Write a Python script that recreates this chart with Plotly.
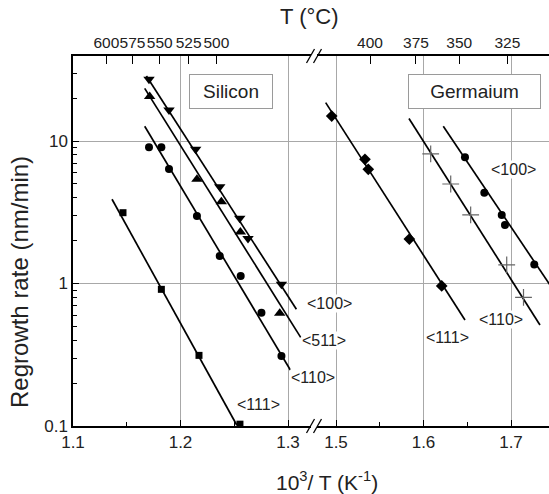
import math
import plotly.graph_objects as go

# ---------------- data (x = 10^3/T in 1/K, y = regrowth rate in nm/min) ----------------
# Silicon
si_100_x = [1.1707, 1.1893, 1.2141, 1.2365, 1.2551, 1.2628, 1.2939]
si_100_y = [27.1, 16.5, 8.74, 4.78, 2.87, 2.07, 0.987]
si_511_x = [1.1713, 1.2153, 1.2380, 1.2557, 1.2923]
si_511_y = [20.5, 5.40, 3.74, 2.30, 0.618]
si_110_x = [1.1707, 1.1822, 1.1893, 1.2153, 1.2365, 1.2560, 1.2753, 1.2939]
si_110_y = [9.03, 9.03, 6.36, 2.98, 1.56, 1.13, 0.624, 0.310]
si_111_x = [1.1465, 1.1822, 1.2172, 1.2553]
si_111_y = [3.14, 0.910, 0.313, 0.103]
# Germanium
ge_111_x = [1.4951, 1.5331, 1.5369, 1.5838, 1.6208]
ge_111_y = [14.97, 7.44, 6.33, 2.05, 0.961]
ge_110_x = [1.6082, 1.6311, 1.6539, 1.6951, 1.7143]
ge_110_y = [8.11, 4.99, 3.03, 1.35, 0.80]
ge_100_x = [1.6474, 1.6695, 1.6894, 1.6931, 1.7266]
ge_100_y = [7.69, 4.34, 3.03, 2.57, 1.36]

# Arrhenius fit lines (start / end)
si_100_fit_x = [1.1683, 1.3078]; si_100_fit_y = [28.6, 0.659]
si_511_fit_x = [1.1667, 1.3118]; si_511_fit_y = [23.4, 0.419]
si_110_fit_x = [1.1667, 1.3022]; si_110_fit_y = [12.7, 0.247]
si_111_fit_x = [1.1363, 1.2523]; si_111_fit_y = [3.90, 0.1016]
ge_111_fit_x = [1.4882, 1.6474]; ge_111_fit_y = [18.6, 0.555]
ge_110_fit_x = [1.5834, 1.7331]; ge_110_fit_y = [14.4, 0.512]
ge_100_fit_x = [1.6226, 1.7600]; ge_100_fit_y = [12.7, 0.705]

# axis ticks
bottom_si_ticks = [1.1, 1.2, 1.3]
bottom_ge_ticks = [1.5, 1.6, 1.7]
top_si_pos = [1.1311, 1.1553, 1.1807, 1.2076, 1.2334]
top_si_labels = ["600", "575", "550", "525", "500"]
top_ge_pos = [1.5389, 1.5914, 1.6409, 1.6958]
top_ge_labels = ["400", "375", "350", "325"]
y_ticks = [0.1, 1, 10]
y_tick_labels = ["0.1", "1", "10"]
y_minor = [0.2, 0.3, 0.4, 0.5, 0.6, 0.7, 0.8, 0.9, 2, 3, 4, 5, 6, 7, 8, 9, 20, 30]

# orientation labels (text, x, y)
si_labels = [("<100>", 1.3171, 0.726), ("<511>", 1.3119, 0.397),
             ("<110>", 1.3022, 0.218), ("<111>", 1.2520, 0.1426)]
ge_labels = [("<100>", 1.6760, 6.33), ("<110>", 1.6626, 0.561),
             ("<111>", 1.6017, 0.421)]

# ---------------- layout geometry ----------------
W, H = 549, 494
L, R, T, B = 73, 0, 56, 68
PW, PH = W - L - R, H - T - B
BREAK_PX = 314
split = (BREAK_PX - L) / PW
x_si_range = [1.1, 1.1 + (BREAK_PX - L) / 1075]
x_ge_range = [1.5 - (336 - BREAK_PX) / 875, 1.5 + (W - 336) / 875]
y_range = [-1, -1 + PH / 142.5]

def px(xp):
    return (xp - L) / PW

def py(yp):
    return (H - B - yp) / PH

FONT = "Liberation Sans, Arial, sans-serif"
TXT = "#222222"
GRID = "#a8a8a8"

fig = go.Figure()

def add_series(xs, ys, fx, fy, axis, symbol, size, color="black", lw=0):
    fig.add_trace(go.Scatter(x=fx, y=fy, mode="lines", xaxis=axis, yaxis="y",
                             line=dict(color="black", width=1.7), showlegend=False,
                             hoverinfo="skip"))
    fig.add_trace(go.Scatter(x=xs, y=ys, mode="markers", xaxis=axis, yaxis="y",
                             cliponaxis=False, showlegend=False,
                             marker=dict(symbol=symbol, size=size, color=color,
                                         line=dict(color=color, width=lw))))

add_series(si_100_x, si_100_y, si_100_fit_x, si_100_fit_y, "x", "triangle-down", 10)
add_series(si_511_x, si_511_y, si_511_fit_x, si_511_fit_y, "x", "triangle-up", 10)
add_series(si_110_x, si_110_y, si_110_fit_x, si_110_fit_y, "x", "circle", 8)
add_series(si_111_x, si_111_y, si_111_fit_x, si_111_fit_y, "x", "square", 7)
add_series(ge_111_x, ge_111_y, ge_111_fit_x, ge_111_fit_y, "x2", "diamond", 9)
add_series(ge_110_x, ge_110_y, ge_110_fit_x, ge_110_fit_y, "x2", "cross-thin", 12, "#666666", 1.2)
add_series(ge_100_x, ge_100_y, ge_100_fit_x, ge_100_fit_y, "x2", "circle", 8)

# placeholder traces so the top axes exist
fig.add_trace(go.Scatter(x=[None], y=[None], xaxis="x3", yaxis="y", showlegend=False))
fig.add_trace(go.Scatter(x=[None], y=[None], xaxis="x4", yaxis="y", showlegend=False))

tickfont = dict(family=FONT, size=17, color=TXT)
topfont = dict(family=FONT, size=15.5, color=TXT)
common_x = dict(showline=True, linecolor="black", linewidth=1.5, ticks="inside",
                ticklen=6, tickcolor="black", tickwidth=1.2, zeroline=False,
                showgrid=True, gridcolor=GRID, gridwidth=1, tickfont=tickfont,
                tickangle=0)
common_top = dict(side="top", anchor="y", tickmode="array", showline=True,
                  linecolor="black", linewidth=1.5, ticks="inside", ticklen=8,
                  tickcolor="black", tickwidth=1.2, showgrid=False, zeroline=False,
                  tickfont=topfont, tickangle=0)

fig.update_layout(
    width=W, height=H, autosize=False,
    margin=dict(l=L, r=R, t=T, b=B, pad=0),
    paper_bgcolor="white", plot_bgcolor="white",
    xaxis=dict(domain=[0, split], range=x_si_range, tickmode="array",
               tickvals=bottom_si_ticks, ticktext=[f"{v:.1f}" for v in bottom_si_ticks],
               minor=dict(tickvals=[1.15, 1.25], ticks="inside", ticklen=4,
                          tickcolor="black", showgrid=False),
               anchor="y", **common_x),
    xaxis2=dict(domain=[split, 1], range=x_ge_range, tickmode="array",
                tickvals=bottom_ge_ticks, ticktext=[f"{v:.1f}" for v in bottom_ge_ticks],
                minor=dict(tickvals=[1.55, 1.65], ticks="inside", ticklen=4,
                           tickcolor="black", showgrid=False),
                anchor="y", **common_x),
    xaxis3=dict(overlaying="x", range=x_si_range, tickvals=top_si_pos,
                ticktext=top_si_labels, **common_top),
    xaxis4=dict(overlaying="x2", range=x_ge_range, tickvals=top_ge_pos,
                ticktext=top_ge_labels, **common_top),
    yaxis=dict(type="log", range=y_range, tickmode="array", tickvals=y_ticks,
               ticktext=y_tick_labels, showline=True, linecolor="black",
               linewidth=1.5, ticks="inside", ticklen=6, tickcolor="black",
               tickwidth=1.2, showgrid=True, gridcolor=GRID, gridwidth=1,
               zeroline=False, tickfont=tickfont, anchor="x",
               minor=dict(tickvals=y_minor, ticks="inside", ticklen=4,
                          tickcolor="black", showgrid=False)),
)

ann = []
# axis titles
ann.append(dict(text="Regrowth rate (nm/min)", xref="paper", yref="paper",
                x=px(19), y=py(282), textangle=-90, showarrow=False,
                xanchor="center", yanchor="middle",
                font=dict(family=FONT, size=24, color=TXT)))
ann.append(dict(text="10<sup>3</sup>/ T (K<sup>-1</sup>)", xref="paper", yref="paper",
                x=px(327), y=py(481), showarrow=False, xanchor="center", yanchor="middle",
                font=dict(family=FONT, size=21, color=TXT)))
ann.append(dict(text="T (°C)", xref="paper", yref="paper", x=px(309), y=py(17),
                showarrow=False, xanchor="center", yanchor="middle",
                font=dict(family=FONT, size=22, color=TXT)))
# material boxes
ann.append(dict(text="Silicon", xref="paper", yref="paper", x=px(231), y=py(91.7),
                showarrow=False, xanchor="center", yanchor="middle", width=82, height=33,
                bordercolor="#9a9a9a", borderwidth=1, borderpad=0, bgcolor="white",
                font=dict(family=FONT, size=19, color=TXT)))
ann.append(dict(text="Germaium", xref="paper", yref="paper", x=px(474.2), y=py(91.2),
                showarrow=False, xanchor="center", yanchor="middle", width=131, height=33,
                bordercolor="#9a9a9a", borderwidth=1, borderpad=0, bgcolor="white",
                font=dict(family=FONT, size=19, color=TXT)))
for txt, x, y in si_labels:
    ann.append(dict(text=txt.replace("<", "&lt;").replace(">", "&gt;"), xref="x", yref="y",
                    x=x, y=math.log10(y), showarrow=False, xanchor="left",
                    yanchor="middle", bgcolor="white", borderpad=0,
                    font=dict(family=FONT, size=16, color=TXT)))
for txt, x, y in ge_labels:
    ann.append(dict(text=txt.replace("<", "&lt;").replace(">", "&gt;"), xref="x2", yref="y",
                    x=x, y=math.log10(y), showarrow=False, xanchor="left",
                    yanchor="middle", bgcolor="white", borderpad=0,
                    font=dict(family=FONT, size=16, color=TXT)))
fig.update_layout(annotations=ann)

# axis break marks
shapes = []
for yb in (T, H - B):
    shapes.append(dict(type="rect", xref="paper", yref="paper",
                       x0=px(BREAK_PX - 3), x1=px(BREAK_PX + 3),
                       y0=py(yb + 2), y1=py(yb - 2), fillcolor="white",
                       line=dict(width=0), layer="above"))
    for c in (BREAK_PX - 3.5, BREAK_PX + 3.5):
        shapes.append(dict(type="line", xref="paper", yref="paper",
                           x0=px(c - 4), y0=py(yb + 7), x1=px(c + 4), y1=py(yb - 7),
                           line=dict(color="black", width=1.3), layer="above"))
fig.update_layout(shapes=shapes)

fig.write_html("out.html")
